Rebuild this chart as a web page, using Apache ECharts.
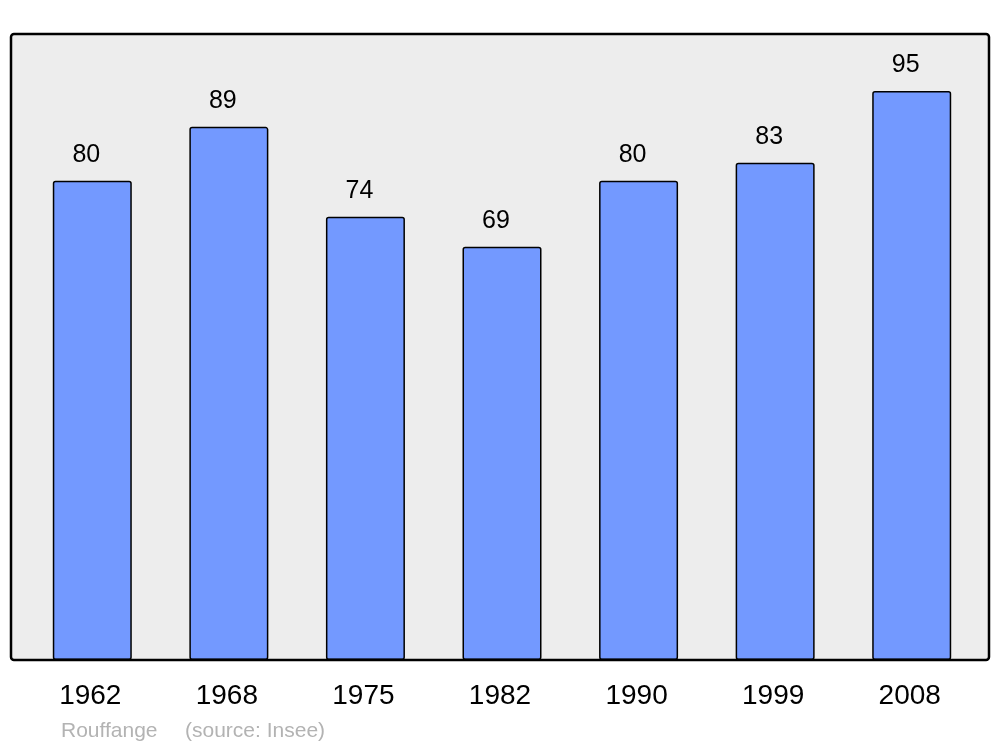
<!DOCTYPE html>
<html>
<head>
<meta charset="utf-8">
<script src="https://cdn.jsdelivr.net/npm/echarts@6/dist/echarts.min.js"></script>
<style>
  html, body { margin: 0; padding: 0; background: #fff; }
</style>
</head>
<body>
<div id="chart" style="width: 1000px; height: 747px;"></div>
<script>
    // population of Rouffange by census year
    var years = ['1962', '1968', '1975', '1982', '1990', '1999', '2008'];
    var population = [80, 89, 74, 69, 80, 83, 95];
    var townName = 'Rouffange';
    var sourceText = '(source: Insee)';

    var chart = echarts.init(document.getElementById('chart'));
    var font = '"Liberation Sans", Arial, sans-serif';

    var option = {
        animation: false,
        grid: {
            left: 24,
            right: 20,
            top: 34,
            bottom: 87
        },
        graphic: [
            {
                // frame background
                type: 'rect',
                z: -10,
                shape: { x: 11, y: 34, width: 978, height: 626, r: 3 },
                style: { fill: '#ededed', stroke: 'none' }
            },
            {
                // frame border, on top of bars
                type: 'rect',
                z: 100,
                shape: { x: 11, y: 34, width: 978, height: 626, r: 3 },
                style: { fill: 'none', stroke: '#000', lineWidth: 2.5 }
            },
            {
                type: 'text',
                left: 61,
                top: 721,
                style: { text: townName, fill: '#b3b3b3', font: '21px ' + font }
            },
            {
                type: 'text',
                left: 185,
                top: 721,
                style: { text: sourceText, fill: '#b3b3b3', font: '21px ' + font }
            }
        ],
        xAxis: {
            type: 'category',
            data: years,
            axisLine: { show: false },
            axisTick: { show: false },
            axisLabel: {
                color: '#000',
                fontSize: 28,
                fontFamily: font,
                margin: 22,
                padding: [0, 4, 0, 0]
            }
        },
        yAxis: {
            type: 'value',
            min: 0,
            max: 104.5,
            show: false,
            splitLine: { show: false }
        },
        series: [
            {
                type: 'bar',
                data: population,
                barWidth: 79,
                itemStyle: {
                    color: '#7399ff',
                    borderColor: '#000',
                    borderWidth: 1.5,
                    borderRadius: 2
                },
                label: {
                    show: true,
                    position: 'top',
                    distance: 13,
                    offset: [-6, 0],
                    color: '#000',
                    fontSize: 25,
                    fontFamily: font
                }
            }
        ]
    };

    chart.setOption(option);
</script>
</body>
</html>
